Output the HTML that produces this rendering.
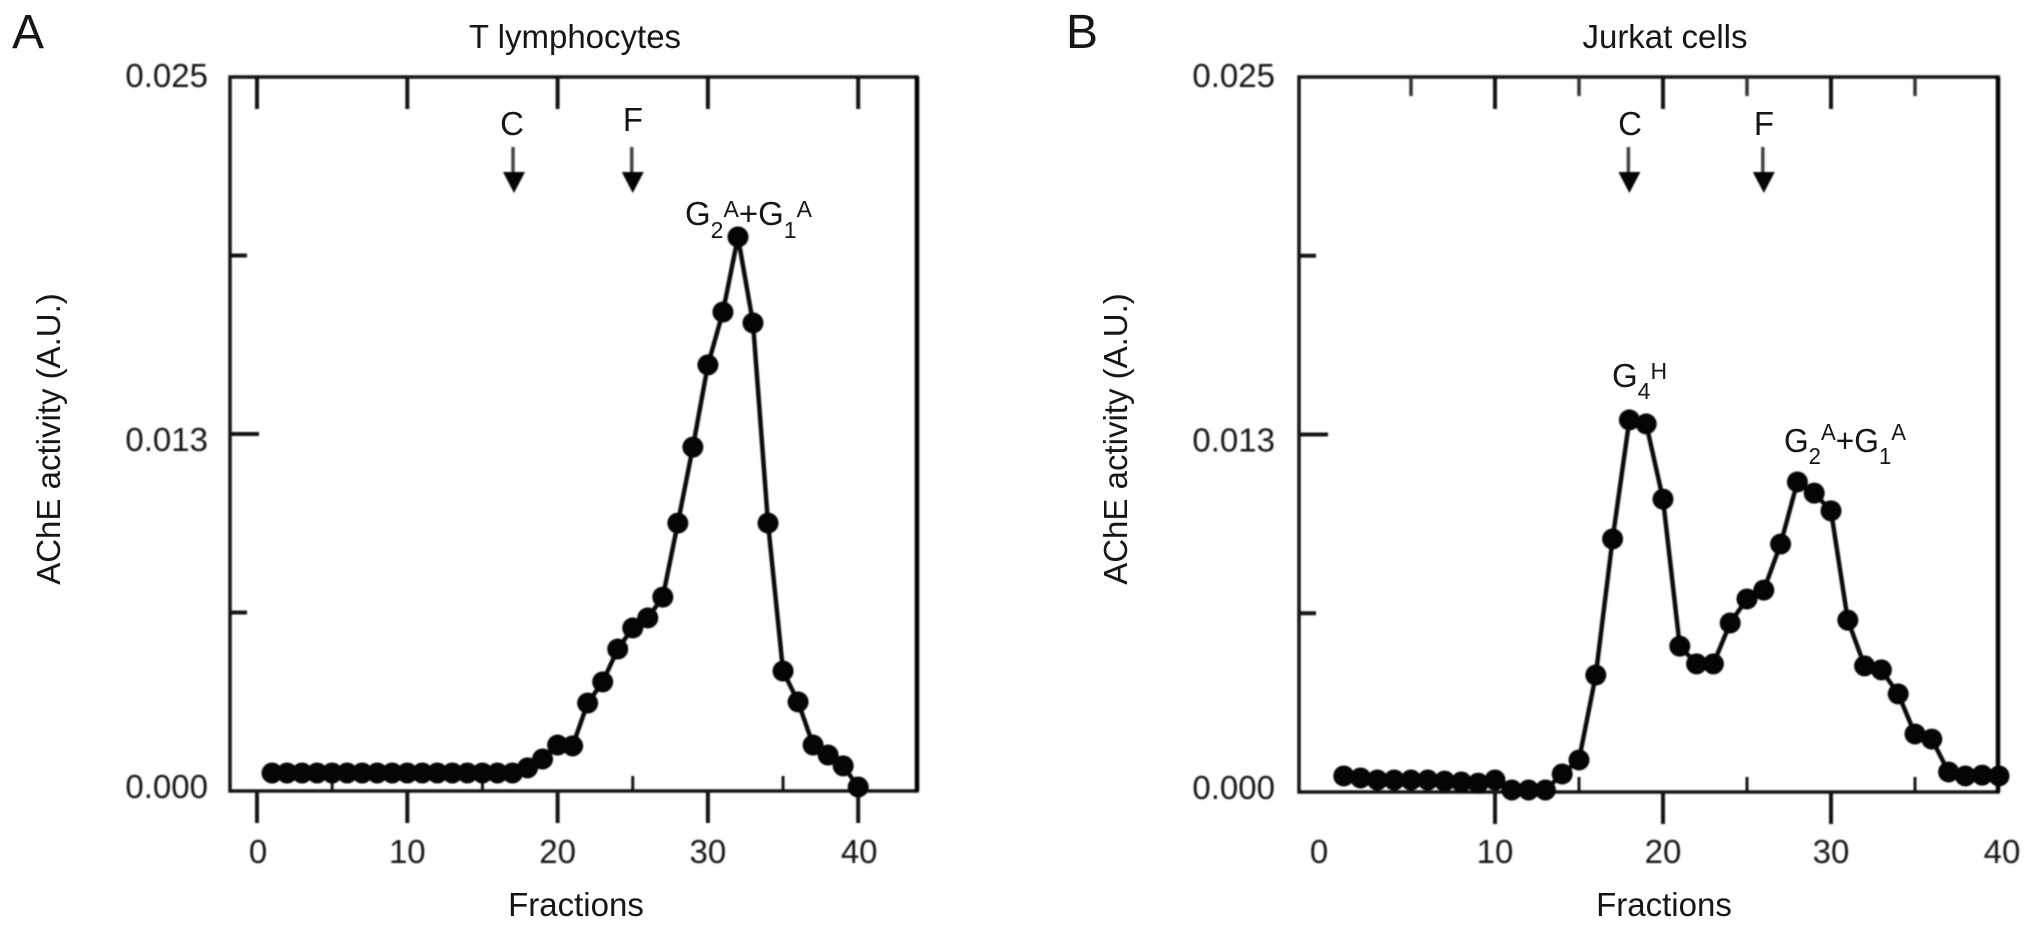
<!DOCTYPE html>
<html lang="en">
<head>
<meta charset="utf-8">
<title>AChE activity in T lymphocytes and Jurkat cells</title>
<style>
  html, body { margin: 0; padding: 0; background: #fff; }
  body { width: 2032px; height: 929px; overflow: hidden; }
  svg { display: block; }
  text { font-family: "Liberation Sans", sans-serif; font-size: 33px; fill: #161616; }
  #plot-a, #plot-b { filter: blur(0.8px); }
</style>
</head>
<body>
<svg id="figure" xmlns="http://www.w3.org/2000/svg" width="2032" height="929" viewBox="0 0 2032 929">
  <rect width="2032" height="929" fill="#fff"/>

  <text x="12" y="48" style="font-size:48px">A</text>
  <text x="1066" y="48" style="font-size:48px">B</text>

  <text x="575" y="48" text-anchor="middle">T lymphocytes</text>
  <text x="1665" y="48" text-anchor="middle">Jurkat cells</text>

  <text transform="translate(60,439) rotate(-90)" text-anchor="middle">AChE activity (A.U.)</text>
  <text transform="translate(1127,439) rotate(-90)" text-anchor="middle">AChE activity (A.U.)</text>

  <text x="576" y="916" text-anchor="middle">Fractions</text>
  <text x="1664" y="916" text-anchor="middle">Fractions</text>

  <text x="512" y="135" text-anchor="middle">C</text>
  <text x="633" y="131" text-anchor="middle">F</text>
  <text x="1630" y="135" text-anchor="middle">C</text>
  <text x="1764" y="135" text-anchor="middle">F</text>

  <g id="plot-a"></g>
  <g id="plot-b"></g>

  <text x="685" y="225">G<tspan dy="13" style="font-size:23px">2</tspan><tspan dy="-21" style="font-size:23px">A</tspan><tspan dy="8">+G</tspan><tspan dy="13" style="font-size:23px">1</tspan><tspan dy="-21" style="font-size:23px">A</tspan></text>
  <text x="1612" y="387">G<tspan dy="12" style="font-size:23px">4</tspan><tspan dy="-20" style="font-size:23px">H</tspan></text>
  <text x="1784" y="452" textLength="122" lengthAdjust="spacingAndGlyphs">G<tspan dy="12" style="font-size:23px">2</tspan><tspan dy="-24" style="font-size:23px">A</tspan><tspan dy="12">+G</tspan><tspan dy="12" style="font-size:23px">1</tspan><tspan dy="-24" style="font-size:23px">A</tspan></text>
</svg>

<script>
// ---- chart data ----
const fractions = [1,2,3,4,5,6,7,8,9,10,11,12,13,14,15,16,17,18,19,20,21,22,23,24,25,26,27,28,29,30,31,32,33,34,35,36,37,38,39,40];

const tLymphocyteActivity = [
  0.00063,0.00063,0.00063,0.00063,0.00063,0.00063,0.00063,0.00063,0.00063,0.00063,
  0.00063,0.00063,0.00063,0.00063,0.00063,0.00063,0.00063,0.00081,0.00112,0.00161,
  0.00158,0.00308,0.00382,0.00497,0.00571,0.00606,0.00679,0.00938,0.01204,0.01492,
  0.01677,0.01940,0.01639,0.00938,0.00420,0.00312,0.00161,0.00126,0.00088,0.00014
];

const jurkatActivity = [
  0.00056,0.00049,0.00042,0.00042,0.00042,0.00042,0.00038,0.00035,0.00031,0.00042,
  0.00007,0.00007,0.00007,0.00063,0.00112,0.00409,0.00885,0.01301,0.01287,0.01024,
  0.00510,0.00448,0.00448,0.00591,0.00675,0.00706,0.00867,0.01084,0.01045,0.00983,
  0.00601,0.00441,0.00427,0.00343,0.00203,0.00185,0.00070,0.00056,0.00059,0.00056
];

const xMajorTicks = [0,10,20,30,40];
const xMinorTicks = [5,15,25,35];
const yMajorTicks = [0.0125];
const yMinorTicks = [0.00625,0.01875];
const xTickLabels = ["0","10","20","30","40"];
const yTickValues = [0,0.0125,0.025];
const yTickLabels = ["0.000","0.013","0.025"];

const markerFractionsA = [17.1,25];
const markerFractionsB = [18,26];

// ---- drawing ----
const NS = "http://www.w3.org/2000/svg";
const INK = "#141414";

function make(parent, tag, attrs) {
  const node = document.createElementNS(NS, tag);
  for (const key in attrs) node.setAttribute(key, attrs[key]);
  parent.appendChild(node);
  return node;
}

function drawPanel(cfg, values, markers) {
  const root = document.getElementById(cfg.id);
  const x = f => cfg.x0 + cfg.xUnit * f;
  const y = v => cfg.bottom - (v / 0.025) * (cfg.bottom - cfg.top);
  const p = cfg.prefix;

  const frame = make(root, "path", {
    d: "M" + cfg.left + " " + cfg.top + "H" + cfg.right + "V" + cfg.bottom + "H" + cfg.left + "Z",
    fill: "none", stroke: INK, "stroke-width": 3.5
  });
  
  

  const rightEdge = make(root, "line", { x1: cfg.right, x2: cfg.right, y1: cfg.top, y2: cfg.bottom, stroke: "#000", "stroke-width": 4.5 });
  
  

  xMajorTicks.forEach((t, i) => {
    if (t >= cfg.firstMajor && t <= cfg.lastMajor) {
      const top = make(root, "line", { x1: x(t), x2: x(t), y1: cfg.top, y2: cfg.top + 32, stroke: INK, "stroke-width": 4 });
      
      
      const bottom = make(root, "line", { x1: x(t), x2: x(t), y1: cfg.bottom, y2: cfg.bottom + 32, stroke: INK, "stroke-width": 4 });
      
      
    }
    const label = make(root, "text", { x: x(t) + (t === 0 ? cfg.zeroShift : 0) + (t === 40 ? cfg.lastShift : 0), y: 863, "text-anchor": "middle" });
    label.textContent = xTickLabels[i];
    
    
  });

  xMinorTicks.forEach(t => {
    const b = make(root, "line", { x1: x(t), x2: x(t), y1: cfg.bottom, y2: cfg.bottom - 15, stroke: INK, "stroke-width": 3 });
    
    
    if (cfg.topMinor) {
      const u = make(root, "line", { x1: x(t), x2: x(t), y1: cfg.top, y2: cfg.top + 19, stroke: "#333", "stroke-width": 3.5 });
      
      
    }
  });

  yMajorTicks.forEach(v => {
    const tick = make(root, "line", { x1: cfg.left, x2: cfg.left + 29, y1: y(v), y2: y(v), stroke: INK, "stroke-width": 4 });
    
    
  });
  yMinorTicks.forEach(v => {
    const tick = make(root, "line", { x1: cfg.left, x2: cfg.left + 17, y1: y(v), y2: y(v), stroke: INK, "stroke-width": 4 });
    
    
  });
  const labelDrop = [7, 17, 10];
  yTickValues.forEach((v, i) => {
    const label = make(root, "text", { x: cfg.labelRight, y: y(v) + labelDrop[i], "text-anchor": "end" });
    label.textContent = yTickLabels[i];
    
    
  });

  const pts = fractions.map((f, i) => x(f) + "," + y(values[i])).join(" ");
  const line = make(root, "polyline", { points: pts, fill: "none", stroke: "#0a0a0a", "stroke-width": 4.5, "stroke-linejoin": "round" });
  
  

  fractions.forEach((f, i) => {
    const dot = make(root, "circle", { cx: x(f), cy: y(values[i]), r: 10.5, fill: "#050505" });
    
    
  });

  markers.forEach(f => {
    const cx = x(f);
    const shaft = make(root, "line", { x1: cx - 1, x2: cx - 1, y1: 147, y2: 176, stroke: "#444", "stroke-width": 3.5 });
    
    
    const head = make(root, "path", { d: "M" + (cx - 11) + " 172H" + (cx + 11) + "L" + cx + " 193Z", fill: "#050505" });
    
    
  });
}

drawPanel({
  id: "plot-a", prefix: "panel-a",
  left: 230, right: 917, top: 77, bottom: 791,
  x0: 257, xUnit: 15.03,
  firstMajor: 0, lastMajor: 40, topMinor: false,
  zeroShift: 1, lastShift: 1, labelRight: 208
}, tLymphocyteActivity, markerFractionsA);

drawPanel({
  id: "plot-b", prefix: "panel-b",
  left: 1299, right: 1998, top: 77, bottom: 792,
  x0: 1327, xUnit: 16.8,
  firstMajor: 10, lastMajor: 30, topMinor: true,
  zeroShift: -8, lastShift: 3, labelRight: 1275
}, jurkatActivity, markerFractionsB);
</script>
</body>
</html>
